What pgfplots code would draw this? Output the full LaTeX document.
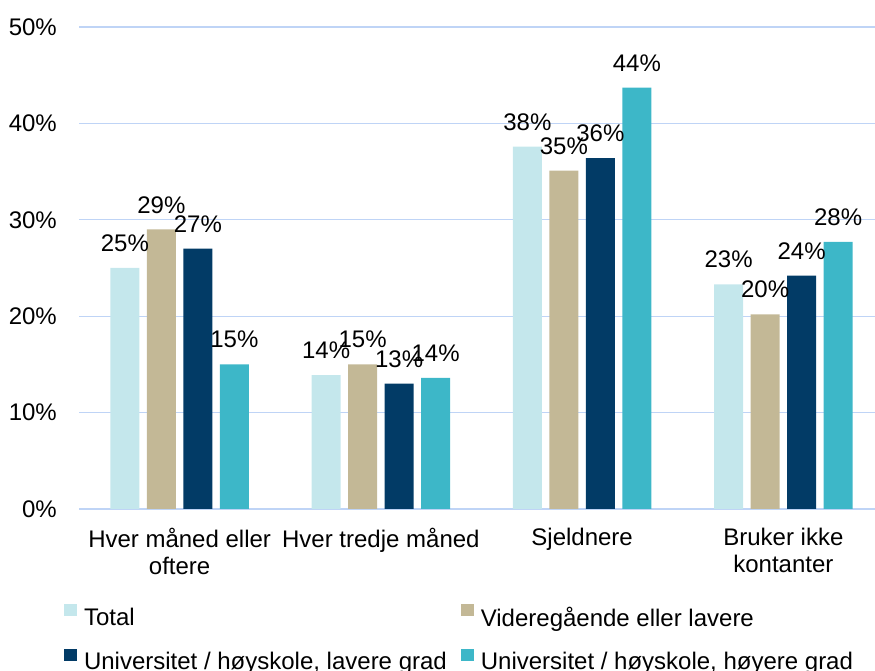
\documentclass[border=0pt]{standalone}
\usepackage{pgfplots}
\pgfplotsset{compat=1.18}
\usepackage{fontspec}
\setmainfont{Liberation Sans}
\definecolor{cTotal}{HTML}{C4E7EC}
\definecolor{cVid}{HTML}{C3B896}
\definecolor{cUL}{HTML}{023B66}
\definecolor{cUH}{HTML}{3DB7C8}
\definecolor{gridc}{HTML}{BFD4F6}
\newcommand{\chartfont}{\fontsize{24bp}{27bp}\selectfont}
\begin{document}
\begin{tikzpicture}
\begin{axis}[
  at={(79bp,162bp)}, anchor=south west,
  scale only axis, width=805bp, height=482bp,
  xmin=-0.5, xmax=3.5, ymin=0, ymax=50,
  ybar=7.5bp, bar width=29bp,
  axis line style={draw=none},
  major tick length=0pt,
  ymajorgrids, grid style={draw=gridc, line width=1.3bp},
  ytick={0,10,20,30,40,50},
  yticklabels={0\%,10\%,20\%,30\%,40\%,50\%},
  xtick={0,1,2,3},
  xticklabels={Hver måned eller\\oftere, Hver tredje måned, Sjeldnere, Bruker ikke\\kontanter},
  every tick label/.append style={font=\chartfont, text=black},
  xticklabel style={align=center, anchor=north, inner sep=0pt, yshift=-19bp},
  yticklabel style={anchor=east, inner sep=0pt, xshift=-22bp},
  /pgf/number format/assume math mode=true,
  nodes near coords={\pgfmathprintnumber[fixed,precision=0]{\pgfplotspointmeta}\%},
  nodes near coords align={vertical},
  every node near coord/.append style={font=\chartfont, inner sep=0pt, yshift=16bp, text=black},
  legend columns=2,
  legend cell align=left,
  legend image code/.code={\fill[#1] (0bp,1bp) rectangle (13bp,13bp);},
  legend style={draw=none, fill=none, inner sep=0pt, outer sep=0pt,
    at={(axis description cs:-0.0186,-0.1975)}, anchor=north west,
    font=\chartfont, nodes={inner sep=0pt}, row sep=21bp,
    /tikz/every odd column/.append style={column sep=7bp},
    /tikz/every even column/.append style={column sep=14bp}},
]
\addplot[fill=cTotal, draw=none] coordinates {(0,25.0) (1,13.9) (2,37.6) (3,23.3)};
\addplot[fill=cVid, draw=none] coordinates {(0,29.0) (1,15.0) (2,35.1) (3,20.2)};
\addplot[fill=cUL, draw=none] coordinates {(0,27.0) (1,13.0) (2,36.4) (3,24.2)};
\addplot[fill=cUH, draw=none] coordinates {(0,15.0) (1,13.6) (2,43.7) (3,27.7)};
\legend{Total, Videregående eller lavere, {Universitet / høyskole, lavere grad}, {Universitet / høyskole, høyere grad}}
\end{axis}
\pgfresetboundingbox
\path[use as bounding box] (0,0) rectangle (875bp,671bp);
\end{tikzpicture}
\end{document}
